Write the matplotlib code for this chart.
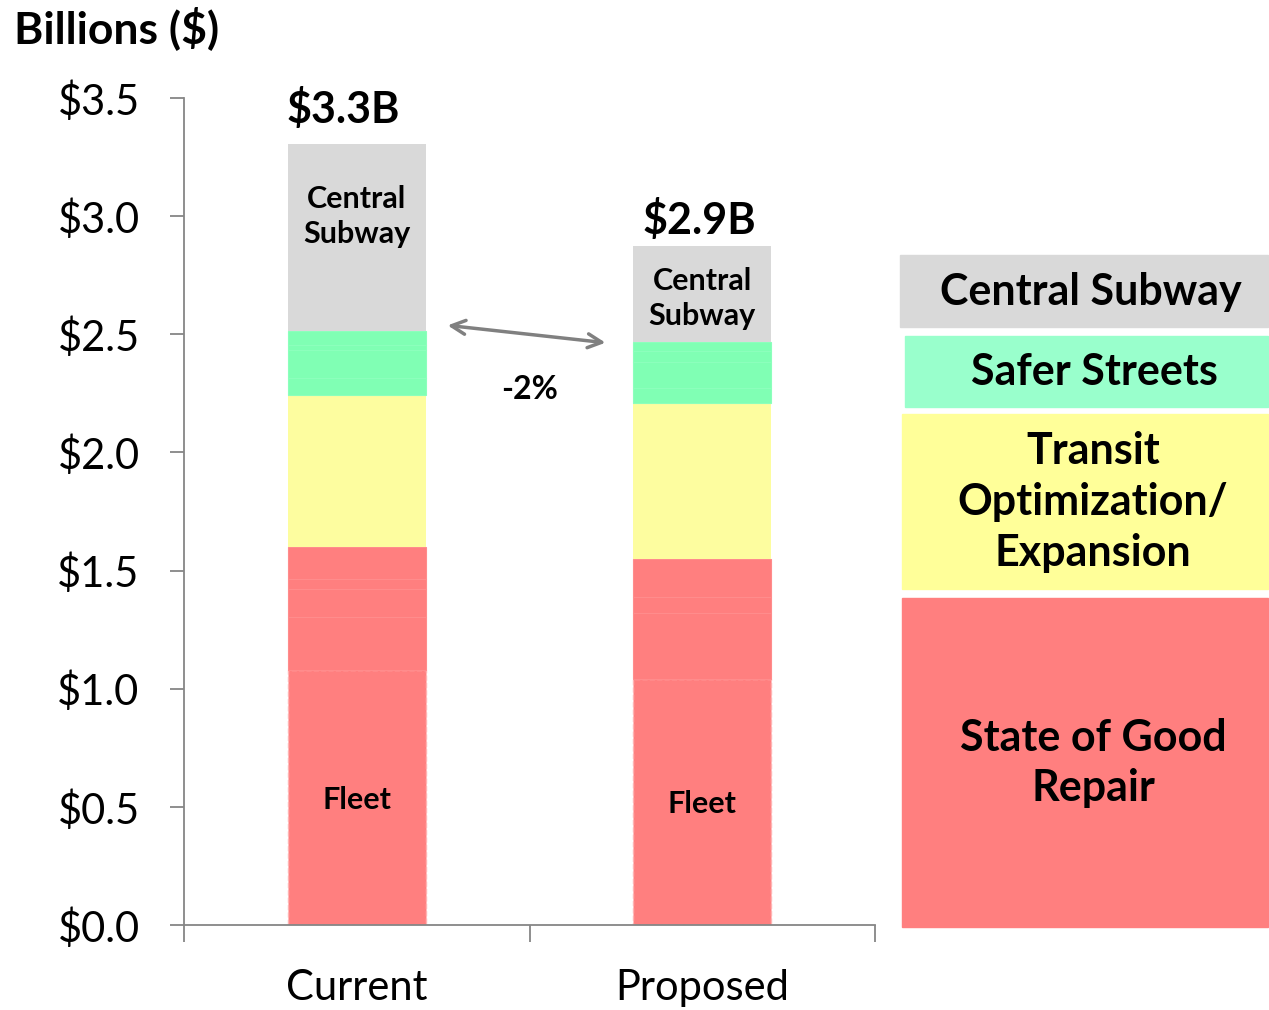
import matplotlib.pyplot as plt
from matplotlib.patches import Rectangle

plt.rcParams['font.family'] = ['Lato', 'DejaVu Sans']

# data (billions $)
categories = ['Current', 'Proposed']
fleet = [1.08, 1.04]
repair_other = [[0.225, 0.115, 0.045, 0.135], [0.28, 0.068, 0.161]]
transit = [0.643, 0.66]
safer = [[0.072, 0.118, 0.022, 0.059], [0.064, 0.11, 0.046, 0.038]]
central = [0.791, 0.407]
totals = ['$3.3B', '$2.9B']
change_label = '-2%'
yticks = [0, 0.5, 1.0, 1.5, 2.0, 2.5, 3.0, 3.5]
legend_items = ['Central Subway', 'Safer Streets', 'Transit\nOptimization/\nExpansion', 'State of Good\nRepair']

red = '#FF7F7F'
yellow = '#FDFD9F'
green = '#80FFB4'
grey = '#D9D9D9'

fig = plt.figure(figsize=(12.69, 10.10), dpi=100)
ax = fig.add_axes([184/1269, 1-925/1010, (875-184)/1269, (925-98)/1010])

w = 0.4
total_dx = [-0.038, -0.009]
total_dy = [0.06, 0.02]
label_dy = [0.09, -0.02]
for i in range(2):
    bottom = 0
    ax.bar(i, fleet[i], w, bottom=bottom, color=red, edgecolor='#FFB3B3',
           linestyle='--', linewidth=1.0)
    bottom += fleet[i]
    for v in repair_other[i]:
        ax.bar(i, v, w, bottom=bottom, color=red, edgecolor='#FF8C8C', linewidth=0.8)
        bottom += v
    ax.bar(i, transit[i], w, bottom=bottom, color=yellow, linewidth=0)
    bottom += transit[i]
    for v in safer[i]:
        ax.bar(i, v, w, bottom=bottom, color=green, edgecolor='#8CFFBC', linewidth=0.8)
        bottom += v
    ax.bar(i, central[i], w, bottom=bottom, color=grey, linewidth=0)
    top = bottom + central[i]
    ax.text(i + total_dx[i], top + total_dy[i], totals[i], ha='center', va='bottom',
            fontsize=31, fontweight='bold')
    # labels inside bars
    ax.text(i, bottom + central[i] / 2 + label_dy[i], 'Central\nSubway',
            ha='center', va='center', fontsize=22, fontweight='bold', linespacing=1.3)
    ax.text(i, fleet[i] / 2 - 0.01, 'Fleet', ha='center', va='center',
            fontsize=22, fontweight='bold')

ax.annotate('', xy=(0.728, 2.463), xytext=(0.255, 2.539),
            arrowprops=dict(arrowstyle='<->,head_length=1.0,head_width=0.5',
                            color='#808080', lw=2.5))
ax.text(0.5, 2.268, change_label, ha='center', va='center', fontsize=23, fontweight='bold')

ax.set_xlim(-0.5, 1.5)
ax.set_ylim(0, 3.5)
ax.set_yticks(yticks)
ax.set_yticklabels(['$%.1f' % t for t in yticks], fontsize=30)
ax.set_xticks([0, 1])
ax.set_xticklabels(categories, fontsize=30)
ax.set_xticks([-0.5, 0.5, 1.5], minor=True)
ax.tick_params(axis='x', which='major', length=0, pad=32)
ax.tick_params(axis='x', which='minor', length=12, width=1.3, color='#868686', direction='out')
ax.tick_params(axis='y', length=10, width=1.3, color='#868686', pad=22)
for s in ['top', 'right']:
    ax.spines[s].set_visible(False)
for s in ['left', 'bottom']:
    ax.spines[s].set_color('#868686')
    ax.spines[s].set_linewidth(1.3)

fig.text(14/1269, 1-28/1010, 'Billions ($)', fontsize=32, fontweight='bold', va='center')

# legend boxes on the right
boxes = [(900, 255, 1268, 327, grey), (905, 336, 1268, 407, '#99FFCC'),
         (902, 414, 1268, 589, '#FFFF99'), (902, 598, 1268, 927, red)]
text_pos = [(1091, 292), (1094, 372), (1093, 502), (1093, 763)]
for (x0, y0, x1, y1, c), label, (tx, ty) in zip(boxes, legend_items, text_pos):
    fig.patches.append(Rectangle((x0/1269, 1-y1/1010), (x1-x0)/1269, (y1-y0)/1010,
                                 transform=fig.transFigure, color=c, zorder=0))
    fig.text(tx/1269, 1-ty/1010, label, ha='center', va='center', fontsize=31,
             fontweight='bold', linespacing=1.32)

fig.savefig('out.png', dpi=100)
